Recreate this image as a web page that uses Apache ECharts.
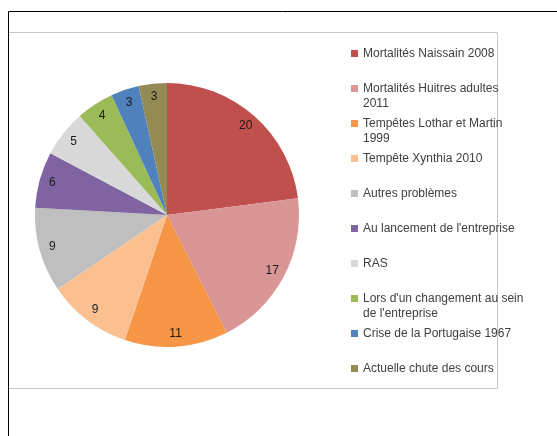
<!DOCTYPE html>
<html>
<head>
<meta charset="utf-8">
<script src="https://cdn.jsdelivr.net/npm/echarts@6/dist/echarts.min.js"></script>
<style>
  html, body { margin: 0; padding: 0; background: #fff; }
  #main { width: 557px; height: 436px; }
</style>
</head>
<body>
<div id="main"></div>
<script>
var names = [
    'Mortalités Naissain 2008',
    'Mortalités Huitres adultes 2011',
    'Tempêtes Lothar et Martin 1999',
    'Tempête Xynthia 2010',
    'Autres problèmes',
    "Au lancement de l'entreprise",
    'RAS',
    "Lors d'un changement au sein de l'entreprise",
    'Crise de la Portugaise 1967',
    'Actuelle chute des cours'
];
// how the legend wraps each name
var legendLines = [
    ['Mortalités Naissain 2008'],
    ['Mortalités Huitres adultes', '2011'],
    ['Tempêtes Lothar et Martin', '1999'],
    ['Tempête Xynthia 2010'],
    ['Autres problèmes'],
    ["Au lancement de l'entreprise"],
    ['RAS'],
    ["Lors d'un changement au sein", "de l'entreprise"],
    ['Crise de la Portugaise 1967'],
    ['Actuelle chute des cours']
];
var values = [20, 17, 11, 9, 9, 6, 5, 4, 3, 3];
var colors = ['#C0504D', '#D99694', '#F79646', '#FAC090', '#BFBFBF',
              '#8064A2', '#D9D9D9', '#9BBB59', '#4F81BD', '#948A54'];

var pieData = names.map(function (n, i) {
    return { name: n, value: values[i], itemStyle: { color: colors[i] } };
});

var lineH = 15;
var legendTop = 53, legendStep = 35.1;
var legends = names.map(function (n, i) {
    var lines = legendLines[i];
    var txt = lines.length > 1 ? ' \n' + lines.join('\n') : lines[0];
    var half = lines.length > 1 ? lineH * 1.5 : lineH / 2;
    return {
        data: [n],
        orient: 'vertical',
        left: 351,
        top: Math.round(legendTop + i * legendStep - half),
        padding: 0,
        itemWidth: 7,
        itemHeight: 7,
        icon: 'rect',
        selectedMode: false,
        formatter: function () { return txt; },
        textStyle: {
            fontFamily: 'Liberation Sans',
            fontSize: 12,
            color: '#404040',
            lineHeight: lineH
        }
    };
});

var chart = echarts.init(document.getElementById('main'));
chart.setOption({
    animation: false,
    graphic: [
        { type: 'rect', shape: { x: 8.5, y: 32.5, width: 489, height: 356 },
          style: { fill: 'none', stroke: '#c8c8c8', lineWidth: 1 } },
        { type: 'polyline', shape: { points: [[8.5, 436], [8.5, 11.5], [557, 11.5]] },
          style: { fill: 'none', stroke: '#000', lineWidth: 1 } }
    ],
    legend: legends,
    series: [
        {
            type: 'pie',
            center: [167, 215],
            radius: 132,
            startAngle: 90,
            clockwise: true,
            silent: true,
            label: { show: false },
            labelLine: { show: false },
            itemStyle: { borderWidth: 0 },
            data: pieData
        },
        {
            type: 'pie',
            center: [167, 215],
            radius: [100, 132],
            startAngle: 90,
            clockwise: true,
            silent: true,
            legendHoverLink: false,
            itemStyle: { color: 'rgba(0,0,0,0)', borderWidth: 0 },
            label: {
                show: true,
                position: 'inside',
                formatter: '{c}',
                fontFamily: 'Liberation Sans',
                fontSize: 12,
                color: '#1a1a1a'
            },
            labelLine: { show: false },
            data: names.map(function (n, i) { return { name: n, value: values[i] }; })
        }
    ]
});
</script>
</body>
</html>
